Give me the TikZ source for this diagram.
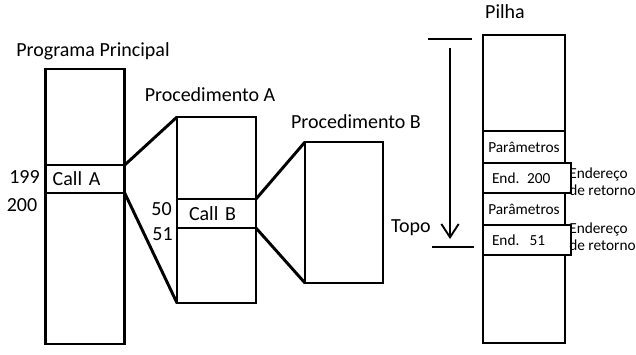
\documentclass[tikz,border=0pt]{standalone}
\usepackage{fontspec}
\setmainfont{Carlito}
\usetikzlibrary{arrows.meta}
\begin{document}
\begin{tikzpicture}[x=0.75pt,y=-0.75pt,
  sz/.style 2 args={minimum width=#1*0.75pt,minimum height=#2*0.75pt},
  box/.style={draw,line width=2.2pt,fill=white,inner sep=0pt,outer sep=0pt},
  sbox/.style={draw,line width=2pt,fill=white,inner sep=0pt,outer sep=0pt},
  big/.style={font=\fontsize{15}{16}\selectfont,inner sep=0pt},
  small/.style={font=\fontsize{11.5}{13}\selectfont,inner sep=0pt},
  conn/.style={line width=2.2pt},
  thin/.style={line width=1.4pt}]
\useasboundingbox (0,0) rectangle (636,354);
% main program
\node[box,sz={79}{275},anchor=north west] (pp) at (45.7,69) {};
\node[box,big,sz={79}{28},anchor=north west,text width=65*0.75pt,align=left,inner xsep=7*0.75pt] (calla) at (45.7,165) {Call A};
\node[big,anchor=base] (tpp) at (93,56.7) {Programa Principal};
\node[big,anchor=base] (n199) at (24.5,183.3) {199};
\node[big,anchor=base] (n200) at (22,211.7) {200};
% procedure A
\node[box,sz={79}{186},anchor=north west] (pa) at (177,117) {};
\node[box,big,sz={79}{29},anchor=north west,text width=55*0.75pt,align=left,inner xsep=12*0.75pt] (callb) at (177,199) {Call B};
\node[big,anchor=base] (tpa) at (210,101.7) {Procedimento A};
\node[big,anchor=base] (n50) at (161.5,215) {50};
\node[big,anchor=base] (n51) at (162.5,240.7) {51};
% procedure B
\node[box,sz={78}{141},anchor=north west] (pb) at (305,142) {};
\node[big,anchor=base] (tpb) at (356,128.3) {Procedimento B};
% connectors
\draw[conn] (calla.north east) -- (pa.north west);
\draw[conn] (calla.south east) -- (pa.south west);
\draw[conn] (callb.north east) -- (pb.north west);
\draw[conn] (callb.south east) -- (pb.south west);
% stack
\node[sbox,sz={82}{308},anchor=north west] (st) at (483,35) {};
\node[big,anchor=base] (tst) at (505,18.3) {Pilha};
\node[sbox,small,sz={82}{32},anchor=north west] (s1) at (483,131) {Parâmetros};
\node[sbox,small,sz={82}{30},anchor=north west,text width=70*0.75pt,align=left,inner xsep=9*0.75pt] (s2) at (483,163) {End. 200};
\node[sbox,small,sz={82}{32},anchor=north west] (s3) at (483,193) {Parâmetros};
\node[sbox,small,sz={82}{30},anchor=north west,text width=70*0.75pt,align=left,inner xsep=9*0.75pt] (s4) at (483,225) {End.\ \ 51};
\node[small,anchor=north west,align=left] (e1) at (569,167.5) {Endereço\\de retorno};
\node[small,anchor=north west,align=left] (e2) at (569,222.5) {Endereço\\de retorno};
% top marker
\coordinate (t1) at (428,39);
\coordinate (t2) at (472,39);
\coordinate (b1) at (432,247);
\coordinate (b2) at (474,247);
\draw[thin] (t1) -- (t2);
\draw[thin] (b1) -- (b2);
\coordinate (atop) at (450,48);
\coordinate (abot) at (450,239);
\draw[thin,-{Straight Barb[length=10pt,width=13pt,line width=1.4pt]}] (atop) -- (abot);
\node[big,anchor=base] (topo) at (411,232) {Topo};
\end{tikzpicture}
\end{document}
